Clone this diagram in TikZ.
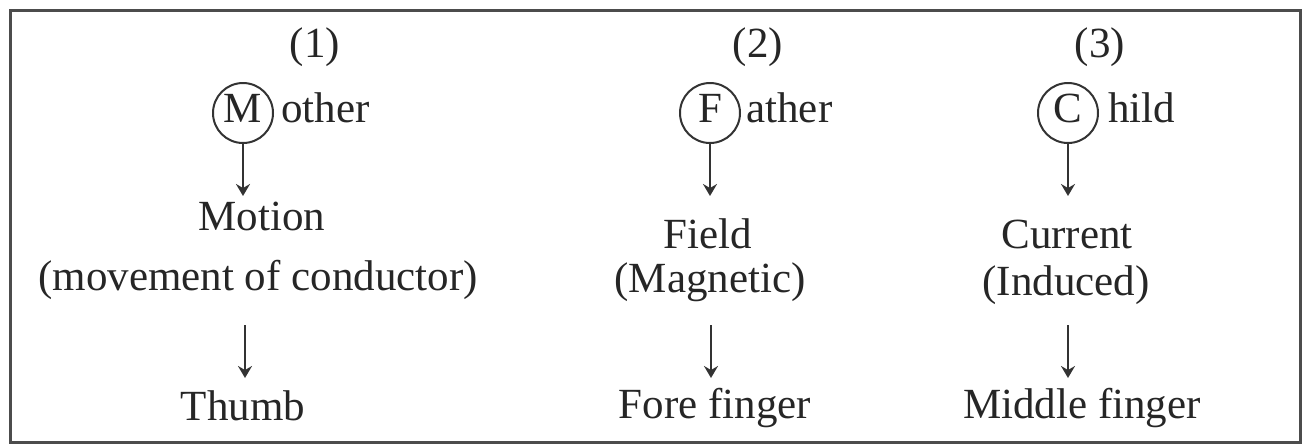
\documentclass[tikz,border=0pt]{standalone}
\usepackage{fontspec}
\setmainfont{Liberation Serif}
\usetikzlibrary{arrows.meta}
\begin{document}
\begin{tikzpicture}[x=0.5pt,y=-0.5pt,
  every node/.style={font=\fontsize{21.5}{24}\selectfont, text=black!85, inner sep=0pt},
  lbl/.style={anchor=base},
  word/.style={anchor=base west},
  ring/.style={circle, draw=black!80, line width=1pt, minimum size=30pt, inner sep=0pt, text depth=5pt},
  arr/.style={draw=black!80, line width=1pt, -{Stealth[length=6pt,width=7pt,inset=2pt]}},
  frame/.style={draw=black!70, line width=1.5pt}]
\useasboundingbox (0,0) rectangle (1302,447);
\draw[frame] (10,10) rectangle (1300,442);

% column 1: Mother
\node (n1) at (315,47) {(1)};
\node[ring] (cM) at (243,113) {M};
\node[word] (wM) at (281,122) {other};
\node[lbl] (motion) at (262,230) {Motion};
\node[lbl] (motionsub) at (258,290) {(movement of conductor)};
\node[lbl] (thumb) at (243,420) {Thumb};
\coordinate (m1) at (243,196);
\coordinate (m2a) at (245,325);
\coordinate (m2b) at (245,378);
\draw[arr] (cM.south) -- (m1);
\draw[arr] (m2a) -- (m2b);

% column 2: Father
\node (n2) at (758,47) {(2)};
\node[ring] (cF) at (710,113) {F};
\node[word] (wF) at (746,122) {ather};
\node[lbl] (field) at (708,248) {Field};
\node[lbl] (fieldsub) at (710,292) {(Magnetic)};
\node[lbl] (fore) at (715,418) {Fore finger};
\coordinate (f1) at (710,196);
\coordinate (f2a) at (711,325);
\coordinate (f2b) at (711,378);
\draw[arr] (cF.south) -- (f1);
\draw[arr] (f2a) -- (f2b);

% column 3: Child
\node (n3) at (1100,47) {(3)};
\node[ring] (cC) at (1068,113) {C};
\node[word] (wC) at (1108,122) {hild};
\node[lbl] (current) at (1067,248) {Current};
\node[lbl] (currentsub) at (1066,295) {(Induced)};
\node[lbl] (middle) at (1082,418) {Middle finger};
\coordinate (c1) at (1068,196);
\coordinate (c2a) at (1068,325);
\coordinate (c2b) at (1068,378);
\draw[arr] (cC.south) -- (c1);
\draw[arr] (c2a) -- (c2b);
\end{tikzpicture}
\end{document}
